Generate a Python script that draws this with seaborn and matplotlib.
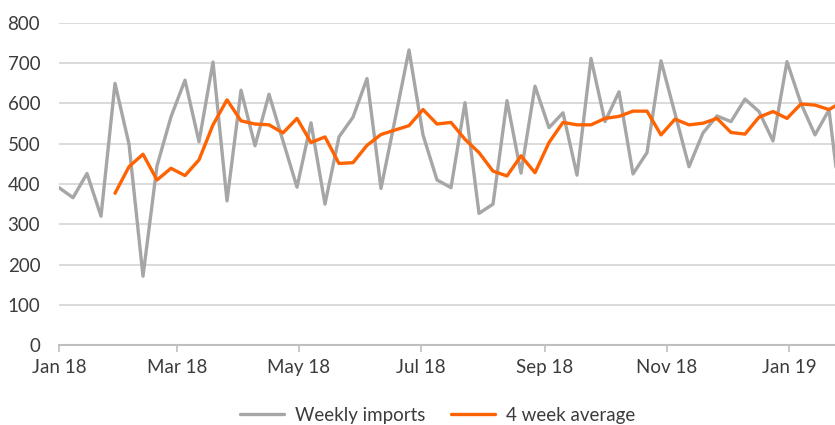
import seaborn as sns
import matplotlib
matplotlib.use('Agg')

import matplotlib.pyplot as plt
import matplotlib.dates as mdates
import pandas as pd

# weekly data, week starting Jan 1 2018
week_start = "2018-01-01"
weekly_imports = [391, 366, 426, 320, 650, 499, 171, 445, 567, 658,
                  505, 703, 358, 633, 495, 623, 507, 392, 552, 350,
                  517, 566, 662, 389, 560, 733, 522, 410, 391, 602,
                  327, 350, 607, 427, 643, 540, 577, 422, 712, 555,
                  629, 425, 478, 706, 575, 443, 527, 569, 555, 611,
                  580, 507, 704, 600, 522, 584, 300]
# 4 week average, starts at the 5th week
avg_4w = [377, 443, 474, 410, 439, 421, 460, 547, 609, 557,
          549, 547, 527, 563, 503, 517, 451, 453, 496, 523,
          534, 545, 585, 549, 553, 511, 478, 432, 420, 470,
          428, 503, 553, 547, 547, 563, 568, 581, 581, 522,
          561, 547, 551, 563, 528, 524, 566, 580, 563, 599,
          596, 585, 605]

dates = pd.date_range(week_start, periods=len(weekly_imports), freq="7D")
df_imports = pd.DataFrame({"date": dates, "value": weekly_imports})
df_avg = pd.DataFrame({"date": dates[len(dates) - len(avg_4w):], "value": avg_4w})

GREY = "#a6a6a6"
ORANGE = "#ff6200"
TEXT = "#3c3c3c"

sns.set_style("white")
plt.rcParams['font.family'] = ['Lato', 'DejaVu Sans']

fig = plt.figure(figsize=(8.35, 4.25), dpi=100)
ax = fig.add_axes([59 / 835, 80 / 425, 776 / 835, 322 / 425])

sns.lineplot(data=df_imports, x="date", y="value", color=GREY, linewidth=2.4,
             label="Weekly imports", ax=ax)
sns.lineplot(data=df_avg, x="date", y="value", color=ORANGE, linewidth=2.4,
             label="4 week average", ax=ax)

ax.set_ylim(0, 800)
ax.set_yticks(range(0, 801, 100))
ax.set_xlim(pd.Timestamp("2018-01-01"), pd.Timestamp("2019-01-24"))
ax.xaxis.set_major_locator(mdates.MonthLocator(bymonth=[1, 3, 5, 7, 9, 11]))
ax.xaxis.set_major_formatter(mdates.DateFormatter('%b %y'))

ax.grid(axis="y", color="#d4d4d4", linewidth=1.2)
ax.set_axisbelow(True)
for s in ["top", "right", "left"]:
    ax.spines[s].set_visible(False)
ax.spines["bottom"].set_color("#bfbfbf")
ax.spines["bottom"].set_linewidth(1.5)
ax.tick_params(axis="x", bottom=True, length=5, width=1.2, color="#bfbfbf",
               labelsize=13.5, labelcolor=TEXT, pad=5)
ax.tick_params(axis="y", left=False, labelsize=13.5, labelcolor=TEXT, pad=10)
ax.set_xlabel("")
ax.set_ylabel("")

ax.legend(loc="upper center", bbox_to_anchor=(0.488, -0.14), ncol=2,
          frameon=False, fontsize=13.5, handlelength=2.3, handletextpad=0.6,
          columnspacing=1.4, labelcolor=TEXT)

fig.savefig("out.png", dpi=100)
plt.close()
